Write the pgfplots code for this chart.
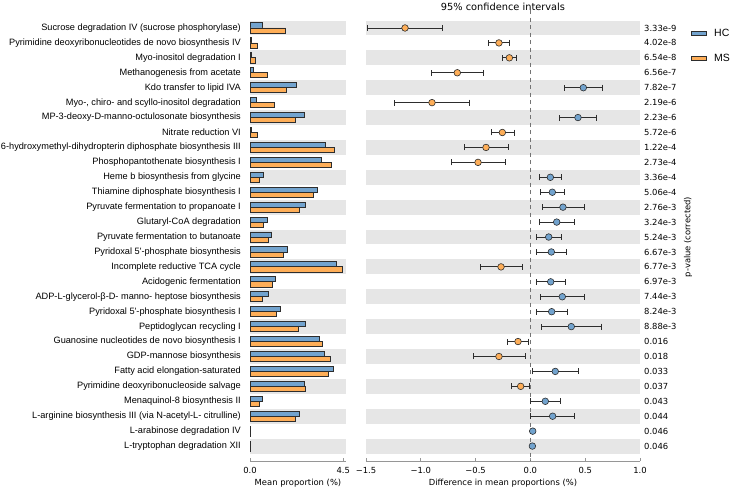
\documentclass[border=0pt]{standalone}
\usepackage{pgfplots}
\usepackage{pgfplotstable}
\pgfplotsset{compat=1.18}
\usepackage{fontspec}
\setmainfont{DejaVu Sans}
\newfontfamily\arialf{Liberation Sans}
\definecolor{hcblue}{RGB}{114,163,206}
\definecolor{msorange}{RGB}{254,174,88}
\definecolor{band}{RGB}{230,230,230}
\definecolor{edge}{RGB}{45,45,45}
\definecolor{spine}{RGB}{150,150,150}
\newcommand{\dv}{\fontsize{8.4}{10}\selectfont}
\newcommand{\lf}{\arialf\fontsize{9.2}{11}\selectfont}

\pgfplotstableread{
y hc ms
1 0.60 1.73
2 0.06 0.37
3 0.05 0.26
4 0.16 0.82
5 2.24 1.76
6 0.31 1.19
7 2.60 2.18
8 0.06 0.37
9 3.64 4.06
10 3.43 3.92
11 0.65 0.45
12 3.26 3.06
13 2.68 2.39
14 0.85 0.63
15 1.05 0.89
16 1.79 1.61
17 4.18 4.45
18 1.24 1.08
19 0.87 0.60
20 1.47 1.27
21 2.69 2.32
22 3.35 3.47
23 3.60 3.89
24 4.03 3.79
25 2.60 2.69
26 0.58 0.44
27 2.39 2.19
28 0.02 0.02
29 0.03 0.03
}\barsdata

\pgfplotstableread{
y x ep em
5 0.483 0.173 0.170
7 0.434 0.165 0.167
11 0.182 0.097 0.097
12 0.200 0.109 0.106
13 0.297 0.192 0.185
14 0.240 0.158 0.155
15 0.167 0.118 0.113
16 0.191 0.134 0.137
18 0.185 0.131 0.131
19 0.291 0.204 0.203
20 0.194 0.140 0.140
21 0.373 0.274 0.276
24 0.227 0.210 0.206
26 0.136 0.134 0.133
27 0.203 0.198 0.200
28 0.021 0.004 0.004
29 0.018 0.004 0.004
}\hcdiff

\pgfplotstableread{
y x ep em
1 -1.144 0.340 0.341
2 -0.287 0.095 0.094
3 -0.192 0.064 0.061
4 -0.667 0.241 0.240
6 -0.898 0.344 0.340
8 -0.256 0.106 0.101
9 -0.405 0.201 0.201
10 -0.478 0.253 0.246
17 -0.268 0.191 0.186
22 -0.113 0.094 0.098
23 -0.287 0.240 0.234
25 -0.089 0.079 0.085
}\msdiff

\begin{document}
\begin{tikzpicture}
\path[use as bounding box] (0pt,0pt) rectangle (733pt,-490pt);

% left panel: mean proportions
\begin{axis}[
  at={(250pt,-461pt)}, anchor=south west,
  scale only axis, width=96pt, height=440.5pt,
  xmin=0, xmax=4.63, ymin=0.5, ymax=30, y dir=reverse,
  axis x line*=bottom, axis y line*=left,
  y axis line style={draw=none}, x axis line style={spine, line width=0.8pt},
  ytick={1,...,29},
  yticklabels={
    Sucrose degradation IV (sucrose phosphorylase),
    Pyrimidine deoxyribonucleotides de novo biosynthesis IV,
    Myo-inositol degradation I,
    Methanogenesis from acetate,
    Kdo transfer to lipid IVA,
    {Myo-, chiro- and scyllo-inositol degradation},
    MP-3-deoxy-D-manno-octulosonate biosynthesis,
    Nitrate reduction VI,
    6-hydroxymethyl-dihydropterin diphosphate biosynthesis III,
    Phosphopantothenate biosynthesis I,
    Heme b biosynthesis from glycine,
    Thiamine diphosphate biosynthesis I,
    Pyruvate fermentation to propanoate I,
    Glutaryl-CoA degradation,
    Pyruvate fermentation to butanoate,
    Pyridoxal 5'-phosphate biosynthesis,
    Incomplete reductive TCA cycle,
    Acidogenic fermentation,
    ADP-L-glycerol-β-D- manno- heptose biosynthesis,
    Pyridoxal 5'-phosphate biosynthesis I,
    Peptidoglycan recycling I,
    Guanosine nucleotides de novo biosynthesis I,
    GDP-mannose biosynthesis,
    Fatty acid elongation-saturated,
    Pyrimidine deoxyribonucleoside salvage,
    Menaquinol-8 biosynthesis II,
    L-arginine biosynthesis III (via N-acetyl-L- citrulline),
    L-arabinose degradation IV,
    L-tryptophan degradation XII},
  yticklabel style={font=\lf, anchor=east, inner sep=0pt, xshift=-9pt},
  ytick style={draw=none},
  xtick={0,4.5}, xticklabels={0.0,4.5},
  xticklabel style={font=\dv, anchor=center, inner sep=0pt, yshift=-9.5pt},
  tick align=inside, major tick length=3pt,
  xtick style={spine, line width=0.8pt},
  xlabel={Mean proportion (\%)},
  xlabel style={font=\dv, at={(axis description cs:0.5,0)}, anchor=center, yshift=-22pt},
  clip=false,
]
\pgfplotsinvokeforeach{1,3,...,29}{
  \fill[band] (axis cs:0,#1-0.5) rectangle (axis cs:4.63,#1+0.5);
}
\addplot[xbar, bar width=0.34, bar shift=-0.17, fill=hcblue, draw=edge, line width=0.8pt]
  table[x=hc, y=y]{\barsdata};
\addplot[xbar, bar width=0.34, bar shift=0.17, fill=msorange, draw=edge, line width=0.8pt]
  table[x=ms, y=y]{\barsdata};
\end{axis}

% right panel: differences
\begin{axis}[
  at={(366pt,-461pt)}, anchor=south west,
  scale only axis, width=274pt, height=440.5pt,
  xmin=-1.5, xmax=1.0, ymin=0.5, ymax=30, y dir=reverse,
  axis x line*=bottom, axis y line*=left,
  y axis line style={draw=none}, ytick=\empty,
  x axis line style={spine, line width=0.8pt},
  xtick={-1.5,-1,-0.5,0,0.5,1},
  xticklabels={−1.5,−1.0,−0.5,0.0,0.5,1.0},
  xticklabel style={font=\dv, anchor=center, inner sep=0pt, yshift=-9.5pt},
  tick align=inside, major tick length=3pt,
  xtick style={spine, line width=0.8pt},
  xlabel={Difference in mean proportions (\%)},
  xlabel style={font=\dv, at={(axis description cs:0.5,0)}, anchor=center, yshift=-22pt},
  clip=false,
]
\pgfplotsinvokeforeach{1,3,...,29}{
  \fill[band] (axis cs:-1.5,#1-0.5) rectangle (axis cs:1.0,#1+0.5);
}
\draw[black!55, line width=0.8pt, dash pattern=on 4pt off 3.5pt] (axis cs:0,-0.2) -- (axis cs:0,30);
\addplot[only marks, mark=*, mark size=3.3pt, mark options={fill=hcblue, draw=edge, line width=0.6pt},
  error bars/.cd, x dir=both, x explicit,
  error bar style={edge, line width=0.9pt},
  error mark=|,
  error mark options={edge, line width=0.9pt, mark size=3pt}]
  table[x=x, y=y, x error plus=ep, x error minus=em]{\hcdiff};
\addplot[only marks, mark=*, mark size=3.3pt, mark options={fill=msorange, draw=edge, line width=0.6pt},
  error bars/.cd, x dir=both, x explicit,
  error bar style={edge, line width=0.9pt},
  error mark=|,
  error mark options={edge, line width=0.9pt, mark size=3pt}]
  table[x=x, y=y, x error plus=ep, x error minus=em]{\msdiff};
\end{axis}

\node[font=\fontsize{9.8}{11.8}\selectfont] at (503pt,-6.5pt) {95\% confidence intervals};

\foreach \i/\p in {1/3.33e-9,2/4.02e-8,3/6.54e-8,4/6.56e-7,5/7.82e-7,6/2.19e-6,7/2.23e-6,8/5.72e-6,9/1.22e-4,10/2.73e-4,11/3.36e-4,12/5.06e-4,13/2.76e-3,14/3.24e-3,15/5.24e-3,16/6.67e-3,17/6.77e-3,18/6.97e-3,19/7.44e-3,20/8.24e-3,21/8.88e-3,22/0.016,23/0.018,24/0.033,25/0.037,26/0.043,27/0.044,28/0.046,29/0.046}{
  \node[font=\dv, anchor=west, inner sep=0pt] at (644pt,{-(28+(\i-1)*14.93)*1pt}) {\p};
}
\node[font=\dv, rotate=90] at (688pt,-237pt) {p-value (corrected)};

\fill[hcblue, draw=edge, line width=0.6pt] (691pt,-31pt) rectangle (706pt,-35pt);
\node[font=\arialf\fontsize{10.5}{12.5}\selectfont, anchor=west, inner sep=0pt] at (714pt,-32.5pt) {HC};
\fill[msorange, draw=edge, line width=0.6pt] (691pt,-56pt) rectangle (706pt,-60pt);
\node[font=\arialf\fontsize{10.5}{12.5}\selectfont, anchor=west, inner sep=0pt] at (714pt,-57.5pt) {MS};
\end{tikzpicture}
\end{document}
